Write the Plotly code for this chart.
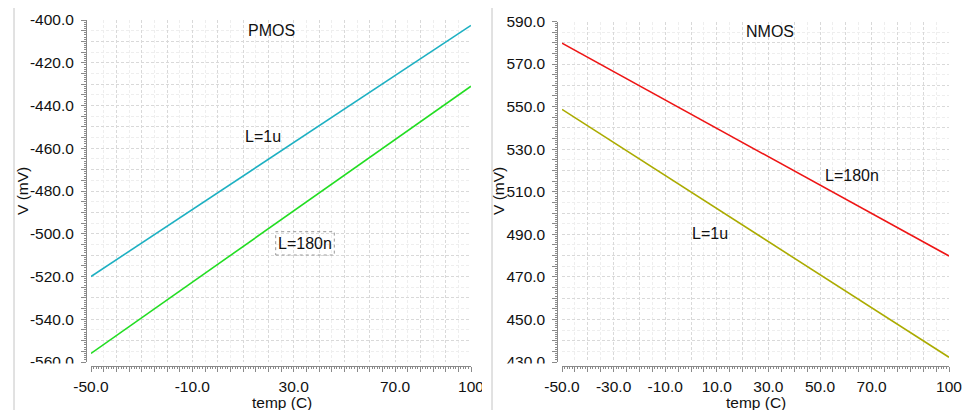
import numpy as np
import plotly.graph_objects as go

# ---- data -------------------------------------------------------------
temp_c = [-50, 100]

pmos_1u = [-520.0, -402.5]
pmos_180n = [-556.0, -431.0]

nmos_180n = [579.8, 479.8]
nmos_1u = [548.7, 432.2]

# labelled ticks: value -> text
pmos_x_vals = [-50, -10, 30, 70, 100]
pmos_x_text = ["-50.0", "-10.0", "30.0", "70.0", "100"]
nmos_x_vals = [-50, -30, -10, 10, 30, 50, 70, 100]
nmos_x_text = ["-50.0", "-30.0", "-10.0", "10.0", "30.0", "50.0", "70.0", "100"]
pmos_y_vals = [-560, -540, -520, -500, -480, -460, -440, -420, -400]
pmos_y_text = ["-560.0", "-540.0", "-520.0", "-500.0", "-480.0", "-460.0", "-440.0", "-420.0", "-400.0"]
nmos_y_vals = [430, 450, 470, 490, 510, 530, 550, 570, 590]
nmos_y_text = ["430.0", "450.0", "470.0", "490.0", "510.0", "530.0", "550.0", "570.0", "590.0"]

# ---- page geometry (pixels) -------------------------------------------
W, H = 963, 410
FONT = "Liberation Sans, Arial, sans-serif"
TXT = "#111111"
AXC = "#8a8a8a"


def fx(p):
    return p / W


def fy(p):
    return 1 - p / H


def tick_setup(lo, hi, step, lab_vals, lab_text):
    """Ticks every `step`; only the listed values carry text."""
    lookup = dict(zip(lab_vals, lab_text))
    vals = list(np.arange(lo, hi + step / 2, step))
    text = [lookup.get(int(round(v)), "") for v in vals]
    return vals, text


fig = go.Figure()

fig.add_trace(go.Scatter(x=temp_c, y=pmos_1u, mode="lines", xaxis="x", yaxis="y",
                         line=dict(color="#1db0c2", width=1.6), showlegend=False))
fig.add_trace(go.Scatter(x=temp_c, y=pmos_180n, mode="lines", xaxis="x", yaxis="y",
                         line=dict(color="#22dd22", width=1.6), showlegend=False))
fig.add_trace(go.Scatter(x=temp_c, y=nmos_180n, mode="lines", xaxis="x2", yaxis="y2",
                         line=dict(color="#ee1515", width=1.6), showlegend=False))
fig.add_trace(go.Scatter(x=temp_c, y=nmos_1u, mode="lines", xaxis="x2", yaxis="y2",
                         line=dict(color="#abab00", width=1.6), showlegend=False))

grid_major = dict(showgrid=True, gridcolor="#d9d9d9", griddash="3px,2px", gridwidth=1,
                  ticks="", showticklabels=False, zeroline=False, showline=False,
                  fixedrange=True, automargin=False)
grid_minor = dict(showgrid=True, gridcolor="#eeeeee", griddash="3px,2px", gridwidth=1, dtick=5, tick0=0)

left_dom = [fx(91), fx(471)]
right_dom = [fx(562), fx(949)]
left_ydom = [fy(362), fy(20)]
right_ydom = [fy(362), fy(21.5)]

# axes carrying the grid
fig.update_layout(
    xaxis=dict(domain=left_dom, range=[-50, 100], anchor="y", dtick=10, tick0=0,
               minor=grid_minor, **grid_major),
    yaxis=dict(domain=left_ydom, range=[-560, -400], anchor="x", dtick=10, tick0=0,
               minor=grid_minor, **grid_major),
    xaxis2=dict(domain=right_dom, range=[-50, 100], anchor="y2", dtick=10, tick0=0,
                minor=grid_minor, **grid_major),
    yaxis2=dict(domain=right_ydom, range=[430, 590], anchor="x2", dtick=10, tick0=0,
                minor=grid_minor, **grid_major),
)

tick_font = dict(family=FONT, size=15.5, color=TXT)
minor_ticks = dict(ticks="outside", dtick=1, tick0=0, ticklen=2.5, tickcolor=AXC,
                   tickwidth=1, showgrid=False)


def tick_axis(overlay, rng, vals, text, position, standoff):
    return dict(overlaying=overlay, range=rng, anchor="free", position=position,
                tickmode="array", tickvals=vals, ticktext=text,
                ticks="outside", ticklen=5, tickcolor=AXC, tickwidth=1,
                showline=True, linecolor=AXC, linewidth=1,
                showgrid=False, zeroline=False, tickfont=tick_font,
                ticklabelstandoff=standoff, ticklabeloverflow="allow",
                minor=minor_ticks, fixedrange=True, automargin=False)


xv, xt = tick_setup(-50, 100, 5, pmos_x_vals, pmos_x_text)
x2v, x2t = tick_setup(-50, 100, 5, nmos_x_vals, nmos_x_text)
yv, yt = tick_setup(-560, -400, 5, pmos_y_vals, pmos_y_text)
y2v, y2t = tick_setup(430, 590, 5, nmos_y_vals, nmos_y_text)

fig.update_layout(
    xaxis3=tick_axis("x", [-50, 100], xv, xt, fy(365.7), 2),
    yaxis3=tick_axis("y", [-560, -400], yv, yt, fx(86), 4),
    xaxis4=tick_axis("x2", [-50, 100], x2v, x2t, fy(365.7), 2),
    yaxis4=tick_axis("y2", [430, 590], y2v, y2t, fx(557.3), 4),
)
fig.layout.yaxis3.side = "left"
fig.layout.yaxis4.side = "left"

# invisible traces so the tick axes are drawn
for xa, ya, xs, ys in [("x3", "y", [-50], [-480]), ("x", "y3", [-50], [-480]),
                       ("x4", "y2", [-50], [510]), ("x2", "y4", [-50], [510])]:
    fig.add_trace(go.Scatter(x=xs, y=ys, xaxis=xa, yaxis=ya, mode="markers",
                             marker=dict(opacity=0), hoverinfo="skip", showlegend=False))

ann_font = dict(family=FONT, size=16, color=TXT)
title_font = dict(family=FONT, size=15.5, color=TXT)


def text_at(x, y, s, font, angle=0):
    return dict(x=fx(x), y=fy(y), xref="paper", yref="paper", text=s, showarrow=False,
                xanchor="center", yanchor="middle", font=font, textangle=angle)


fig.update_layout(annotations=[
    text_at(271, 31, "PMOS", ann_font),
    text_at(263, 136, "L=1u", ann_font),
    text_at(305, 243, "L=180n", ann_font),
    text_at(770, 32, "NMOS", ann_font),
    text_at(852, 176, "L=180n", ann_font),
    text_at(709.5, 234, "L=1u", ann_font),
    text_at(282, 402, "temp (C)", title_font),
    text_at(756, 402, "temp (C)", title_font),
    text_at(22, 191, "V (mV)", title_font, -90),
    text_at(498, 191, "V (mV)", title_font, -90),
])

shapes = [
    # white masks trimming the edge tick labels
    dict(type="rect", xref="paper", yref="paper", x0=fx(18), x1=fx(85), y0=fy(376), y1=fy(363.5),
         fillcolor="white", line=dict(width=0), layer="above"),
    dict(type="rect", xref="paper", yref="paper", x0=fx(496), x1=fx(556), y0=fy(376), y1=fy(363.5),
         fillcolor="white", line=dict(width=0), layer="above"),
    dict(type="rect", xref="paper", yref="paper", x0=fx(482), x1=fx(491.5), y0=fy(396), y1=fy(370),
         fillcolor="white", line=dict(width=0), layer="above"),
    # dashed frame around the L=180n tag
    dict(type="rect", xref="paper", yref="paper", x0=fx(275.7), x1=fx(334.3), y0=fy(255), y1=fy(231.7),
         line=dict(color="#9a9a9a", width=1, dash="dot"), layer="above"),
    # panel separators
    dict(type="line", xref="paper", yref="paper", x0=fx(14), x1=fx(14), y0=fy(8), y1=0,
         line=dict(color="#c4c4c4", width=1), layer="above"),
    dict(type="line", xref="paper", yref="paper", x0=fx(492), x1=fx(492), y0=fy(8), y1=0,
         line=dict(color="#c4c4c4", width=1), layer="above"),
]

fig.update_layout(
    shapes=shapes,
    width=W, height=H,
    margin=dict(l=0, r=0, t=0, b=0, pad=0, autoexpand=False),
    paper_bgcolor="white", plot_bgcolor="white",
    font=dict(family=FONT, color=TXT),
    showlegend=False,
)

fig.write_html("out.html")
